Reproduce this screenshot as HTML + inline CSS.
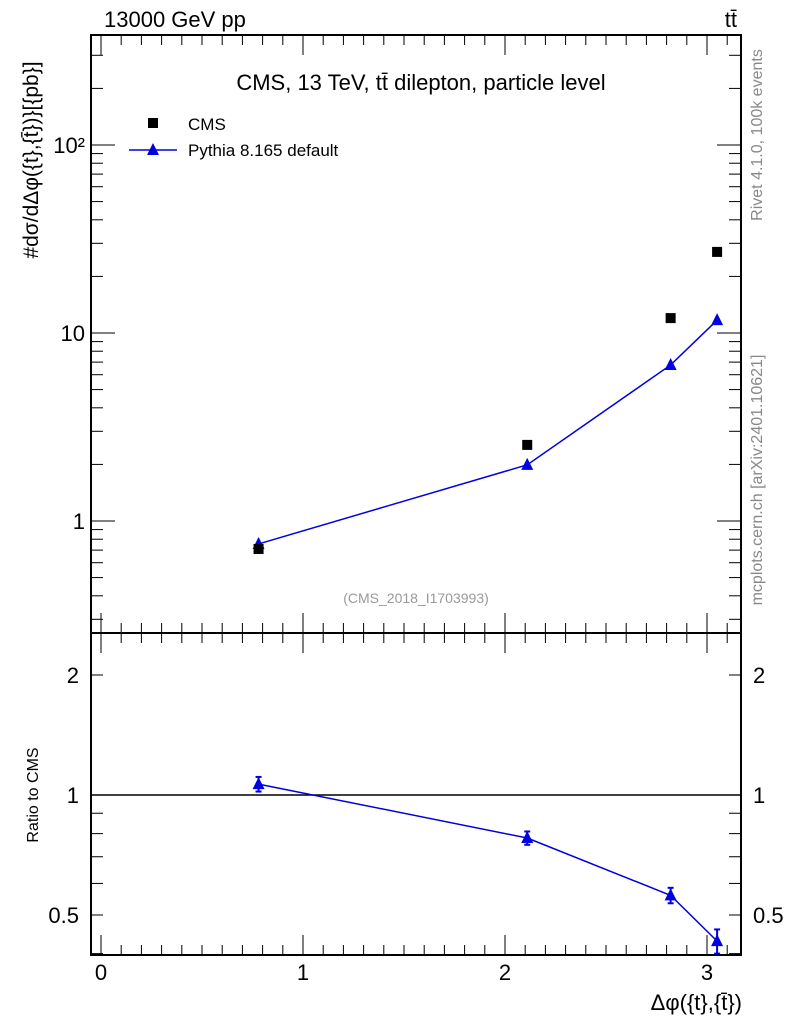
<!DOCTYPE html>
<html><head><meta charset="utf-8"><style>
body{margin:0;background:#fff;}
svg{display:block;font-family:"Liberation Sans",sans-serif;}
</style></head><body>
<svg id="c" width="786" height="1024" xmlns="http://www.w3.org/2000/svg">
<g id="g"></g>
</svg>
<script>
const xCenters=[0.78,2.11,2.82,3.05];
const cmsValues=[0.71,2.54,12.0,27.0];
const pythiaValues=[0.755,1.99,6.76,11.7];
const pythiaErr=[0.05,0.06,0.15,0.5];
const ratioValues=[1.065,0.78,0.56,0.43];
const ratioErr=[0.045,0.03,0.025,0.03];
const xTicks=[0,1,2,3];
const topTicks=[1,10,100];
const topTickLabels=["1","10","10²"];
const ratioTicks=[0.5,1,2];
const ratioTickLabels=["0.5","1","2"];

const NS="http://www.w3.org/2000/svg";
const g=document.getElementById('g');
const L=91,R=741,T1=35,B1=633,T2=633,B2=955;
const X=v=>101+v*202;
const Y1=v=>521-Math.log10(v)*188;
const Y2=v=>795-Math.log10(v)*398.6;
function mk(t,a,p){const e=document.createElementNS(NS,t);for(const k in a)e.setAttribute(k,a[k]);(p||g).appendChild(e);return e;}
function line(x1,y1,x2,y2,c,w){return mk('line',{x1,y1,x2,y2,stroke:c||'#000','stroke-width':w||1});}
function text(x,y,s,sz,anchor,fill,extra){const e=mk('text',Object.assign({x,y,'font-size':sz,'text-anchor':anchor||'start',fill:fill||'#000'},extra||{}));e.textContent=s;return e;}

let f1=mk('rect',{x:L,y:T1,width:R-L,height:B1-T1,fill:'none',stroke:'#000','stroke-width':2});

let f2=mk('rect',{x:L,y:T2,width:R-L,height:B2-T2,fill:'none',stroke:'#000','stroke-width':2});


for(let v=0;v<=3.2001;v+=0.1){const x=X(v);if(x>R)break;const major=Math.abs(v-Math.round(v))<1e-6;const len=major?20:10;
 line(x,T1,x,T1+len);line(x,B1,x,B1-len);line(x,T2,x,T2+len);line(x,B2,x,B2-len);}
xTicks.forEach((v,i)=>{const t=text(X(v),980,String(v),22,'middle');});

for(let d=0.1;d<=1000;d*=10){for(let m=1;m<10;m++){const v=d*m;const y=Y1(v);if(y<T1||y>B1)continue;const len=m==1?24:12;line(L,y,L+len,y);line(R,y,R-len,y);}}
topTicks.forEach((v,i)=>{const t=text(L-6,Y1(v)+8,topTickLabels[i],22,'end');});
for(let d=0.1;d<=10;d*=10){for(let m=1;m<10;m++){const v=d*m;const y=Y2(v);if(y<T2+2||y>B2)continue;const len=m==1?24:12;line(L,y,L+len,y);line(R,y,R-len,y);}}
ratioTicks.forEach((v,i)=>{let t=text(L-12,Y2(v)+8,ratioTickLabels[i],22,'end');
 t=text(R+12,Y2(v)+8,ratioTickLabels[i],22,'start');});
let one=line(L,Y2(1),R,Y2(1),'#000',1.5);

let pts=xCenters.map((x,i)=>X(x)+','+Y1(pythiaValues[i])).join(' ');
let pl=mk('polyline',{points:pts,fill:'none',stroke:'#0000e0','stroke-width':1.5});

function tri(x,y,n){const p=mk('polygon',{points:`${x-6},${y+5} ${x+6},${y+5} ${x},${y-7}`,fill:'#0000e0'});}
xCenters.forEach((x,i)=>{const cx=X(x);line(cx,Y1(pythiaValues[i]+pythiaErr[i]),cx,Y1(pythiaValues[i]-pythiaErr[i]),'#0000e0',2);tri(cx,Y1(pythiaValues[i]),'pythia-point');});
xCenters.forEach((x,i)=>{const r=mk('rect',{x:X(x)-5,y:Y1(cmsValues[i])-5,width:10,height:10,fill:'#000'});});

pts=xCenters.map((x,i)=>X(x)+','+Y2(ratioValues[i])).join(' ');
pl=mk('polyline',{points:pts,fill:'none',stroke:'#0000e0','stroke-width':1.5});

xCenters.forEach((x,i)=>{const cx=X(x);const y1=Y2(ratioValues[i]+ratioErr[i]),y2=Y2(ratioValues[i]-ratioErr[i]);line(cx,y1,cx,y2,'#0000e0',2);line(cx-3,y1,cx+3,y1,'#0000e0',2);line(cx-3,y2,cx+3,y2,'#0000e0',2);tri(cx,Y2(ratioValues[i]),'ratio-point');});

let lr=mk('rect',{x:148,y:118,width:10,height:10,fill:'#000'});
text(188,130,'CMS',17);
line(129,150,177,150,'#0000e0',1.5);tri(153,150,'legend-pythia-marker');
text(188,156,'Pythia 8.165 default',17);

text(104,27,'13000 GeV pp',22);
text(737,27,'tt̄',22,'end');
text(421,90,'CMS, 13 TeV, tt̄ dilepton, particle level',22,'middle');
text(416,603,'(CMS_2018_I1703993)',14,'middle','#999');
text(742,1010,'Δφ({t},{t̄})',22,'end');
text(38,795,'Ratio to CMS',16,'middle','#000',{transform:'rotate(-90 38 795)'});
text(38,160,'#dσ/dΔφ({t},{t̄})}[{pb}]',21,'middle','#000',{transform:'rotate(-90 38 160)'});
text(762,135,'Rivet 4.1.0,  100k events',16,'middle','#888',{transform:'rotate(-90 762 135)'});
text(762,480,'mcplots.cern.ch [arXiv:2401.10621]',16,'middle','#888',{transform:'rotate(-90 762 480)'});
</script>
</body></html>
